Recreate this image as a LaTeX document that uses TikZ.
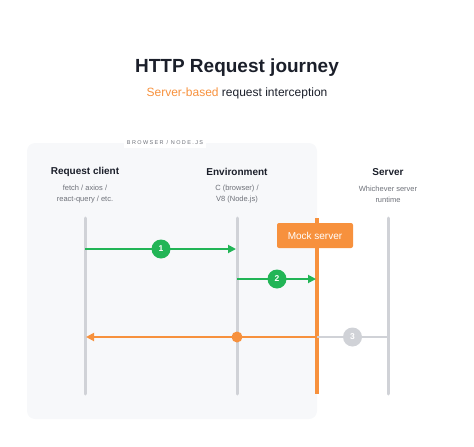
\documentclass[tikz,border=0pt]{standalone}
\usepackage{fontspec}
\setmainfont{Liberation Sans}
\usetikzlibrary{arrows.meta}
\definecolor{ink}{HTML}{1B1F2A}
\definecolor{muted}{HTML}{6E7179}
\definecolor{railgray}{HTML}{D0D2D7}
\definecolor{panel}{HTML}{F7F8FA}
\definecolor{okgreen}{HTML}{22B556}
\definecolor{mockorange}{HTML}{F7913D}
\begin{document}
\begin{tikzpicture}[x=1pt, y=-1pt,
  head/.style = {font=\bfseries\fontsize{10}{12}\selectfont, text=ink},
  sub/.style = {font=\fontsize{7.5}{11}\selectfont, text=muted, align=center},
  rail/.style = {draw=railgray, line width=3pt, line cap=round},
  badge/.style = {circle, fill=#1, text=white, inner sep=0pt, minimum size=19pt, font=\bfseries\fontsize{8.5}{9}\selectfont},
  flow/.style = {draw=#1, line width=1.8pt, -{Triangle[length=8pt,width=8pt]}}]
  \useasboundingbox (0,0) rectangle (474,447);
  \node (title) at (237,68) {\bfseries\fontsize{19}{22}\selectfont\textcolor{ink}{HTTP Request journey}};
  \node (subtitle) at (237,93) {\fontsize{12}{14}\selectfont\textcolor{mockorange}{Server-based} \textcolor{ink}{request interception}};
  \fill[panel, rounded corners=8pt] (27,143) rectangle (317,419);
  \node[fill=white, inner sep=3pt, text=muted, font=\fontsize{5.5}{6}\selectfont\addfontfeatures{LetterSpace=25}] (browser) at (165,143) {BROWSER / NODE.JS};
  \node[head] (rchead) at (85,172) {Request client};
  \node[sub] (rcsub) at (85,194) {fetch / axios /\\react-query / etc.};
  \node[head] (envhead) at (237,172) {Environment};
  \node[sub] (envsub) at (237,194) {C (browser) /\\V8 (Node.js)};
  \node[head] (srvhead) at (388,172) {Server};
  \node[sub] (srvsub) at (388,194) {Whichever server\\runtime};
  \coordinate (rctop) at (85,218);
  \coordinate (rcbot) at (85,394);
  \coordinate (envtop) at (237,218);
  \coordinate (envbot) at (237,394);
  \coordinate (mocktop) at (317,218);
  \coordinate (mockbot) at (317,394);
  \coordinate (srvtop) at (388,218);
  \coordinate (srvbot) at (388,394);
  \draw[rail] (rctop) -- (rcbot);
  \draw[rail] (envtop) -- (envbot);
  \draw[rail] (srvtop) -- (srvbot);
  \draw[draw=mockorange, line width=3.5pt] (mocktop) -- (mockbot);
  \coordinate (req1) at (85,249);
  \coordinate (env1) at (237,249);
  \coordinate (env2) at (237,279);
  \coordinate (mock2) at (317,279);
  \coordinate (req3) at (85,337);
  \coordinate (env3) at (237,337);
  \coordinate (mock3) at (317,337);
  \coordinate (srv3) at (388,337);
  \draw[flow=okgreen, shorten >=1pt] (req1) -- node[badge=okgreen] (step1) {1} (env1);
  \draw[flow=okgreen, shorten >=1pt] (env2) -- node[badge=okgreen] (step2) {2} (mock2);
  \draw[draw=railgray, line width=1.8pt] (mock3) -- node[badge=railgray] (step3) {3} (srv3);
  \draw[flow=mockorange, shorten >=1pt] (mock3) -- (req3);
  \node[circle, fill=mockorange, inner sep=0pt, minimum size=11pt] (envdot) at (env3) {};
  \node[fill=mockorange, rounded corners=2pt, text=white, minimum width=76pt, minimum height=25pt, inner sep=0pt, font=\fontsize{10}{11}\selectfont] (mock) at (315,235.5) {Mock server};
\end{tikzpicture}
\end{document}
